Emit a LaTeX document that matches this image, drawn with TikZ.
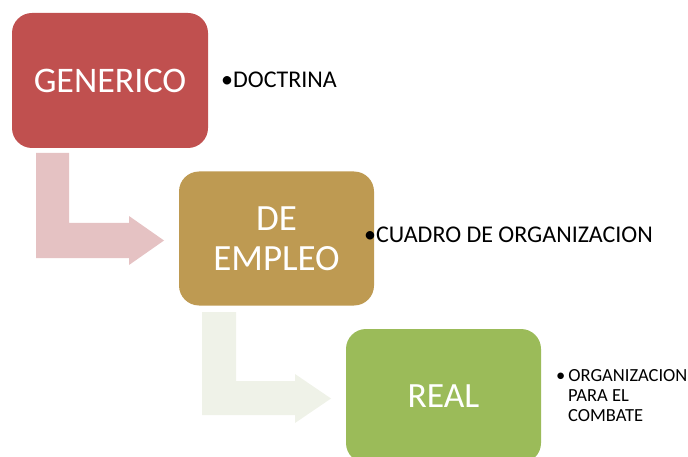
\documentclass[tikz,border=0pt]{standalone}
\usepackage{fontspec}
\setmainfont{Carlito}
\definecolor{cRed}{HTML}{C0504F}
\definecolor{cTan}{HTML}{BE9A52}
\definecolor{cGreen}{HTML}{9BBB59}
\definecolor{cPink}{HTML}{E5C2C3}
\definecolor{cPale}{HTML}{EFF2E8}
\tikzset{
  box/.style={rounded corners=20pt, minimum width=196pt, minimum height=135pt, inner sep=0pt, text=white, align=center},
  note/.style={anchor=base west, inner sep=0pt, text=black, align=left}
}
\begin{document}
\begin{tikzpicture}[x=1pt,y=-1pt]
\useasboundingbox (0,0) rectangle (688,457);
\clip (0,0) rectangle (688,457);
% arrows
\fill[cPink] (36,153) -- (69,153) -- (69,223) -- (129,223) -- (129,216) -- (164,240.5) -- (129,265) -- (129,258) -- (36,258) -- cycle;
\fill[cPale] (202,312) -- (236,312) -- (236,381) -- (295,381) -- (295,374) -- (331,398.5) -- (295,423) -- (295,415) -- (202,415) -- cycle;
% boxes
\node[box, fill=cRed, font=\fontsize{36}{40}\selectfont] (gen) at (110,80.5) {GENERICO};
\node[box, fill=cTan, font=\fontsize{37}{40}\selectfont, minimum width=195pt, minimum height=134pt] (emp) at (276.5,238.5) {DE\\EMPLEO};
\node[box, fill=cGreen, font=\fontsize{35.5}{40}\selectfont, minimum width=195pt, minimum height=134pt] (real) at (443.5,396) {REAL};
% notes
\node[note, font=\fontsize{24}{26}\selectfont] (n1) at (221,87.5) {•DOCTRINA};
\node[note, font=\fontsize{24}{26}\selectfont] (n2) at (364,243) {•CUADRO DE ORGANIZACION};
\node[note, font=\fontsize{18.5}{20}\selectfont, anchor=north west] (n3) at (556,369.5) {•\hspace{3pt}ORGANIZACION\\\hspace{12pt}PARA EL\\\hspace{12pt}COMBATE};
\end{tikzpicture}
\end{document}
